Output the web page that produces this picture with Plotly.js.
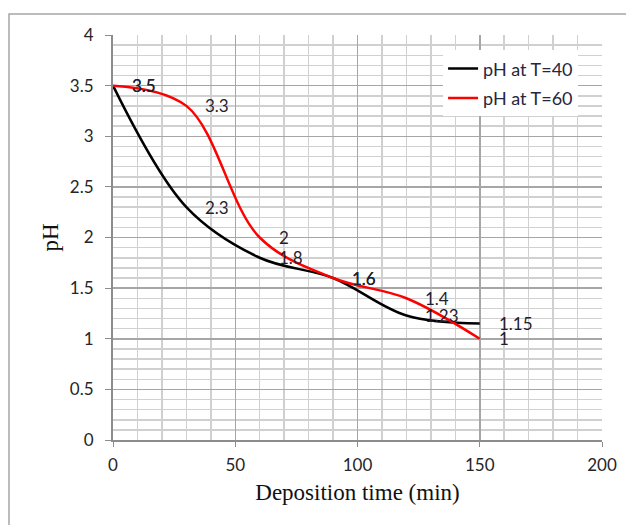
<!DOCTYPE html>
<html>
<head>
<meta charset="utf-8">
<script src="https://cdn.plot.ly/plotly-3.0.1.min.js"></script>
<style>
  html, body { margin: 0; padding: 0; background: #fff; }
  #chart { width: 626px; height: 525px; }
</style>
</head>
<body>
<div id="chart"></div>
<script>
// Deposition time (min) at which pH was measured
const times = [0, 30, 60, 90, 120, 150];
// pH readings for the two bath temperatures
const phT40 = [3.5, 2.3, 1.8, 1.6, 1.23, 1.15];
const phT60 = [3.5, 3.3, 2, 1.6, 1.4, 1];
const seriesNames = ['pH at T=40', 'pH at T=60'];
const seriesColors = ['#000000', '#ff0000'];

const tickFont = { family: 'Lato, "Liberation Sans", sans-serif', size: 17, color: '#262626' };
const labelFont = { family: 'Lato, "Liberation Sans", sans-serif', size: 17, color: '#1f1f2f' };

const traces = [phT40, phT60].map((vals, i) => ({
  x: times,
  y: vals,
  name: seriesNames[i],
  legendgroup: 'g' + i,
  mode: 'lines',
  line: { color: seriesColors[i], width: 2.5, shape: 'spline', smoothing: 1 },
  hoverinfo: 'x+y'
}));

// value labels placed just right of each measured point
const annotations = [];
[phT40, phT60].forEach(vals => {
  vals.forEach((v, j) => {
    annotations.push({
      x: times[j], y: v, xref: 'x', yref: 'y',
      text: String(v), showarrow: false,
      xanchor: 'left', yanchor: 'middle', xshift: 17,
      font: labelFont
    });
  });
});

const layout = {
  width: 626, height: 525,
  margin: { l: 113, r: 24, t: 35, b: 85 },
  paper_bgcolor: '#ffffff',
  plot_bgcolor: '#ffffff',
  showlegend: true,
  legend: {
    x: 0.675, y: 0.962, xanchor: 'left', yanchor: 'top',
    bgcolor: '#ffffff', borderwidth: 0,
    font: { family: 'Lato, "Liberation Sans", sans-serif', size: 18, color: '#262640' },
    traceorder: 'grouped', tracegroupgap: 3
  },
  xaxis: {
    range: [0, 200], dtick: 50, tick0: 0,
    showgrid: true, gridcolor: '#a6a6a6', gridwidth: 1.5,
    minor: { dtick: 10, showgrid: true, gridcolor: '#d0d0d0', gridwidth: 1.5 },
    showline: true, linecolor: '#8c8c8c', linewidth: 2,
    ticks: 'outside', ticklen: 5, tickcolor: '#8c8c8c', tickwidth: 1,
    ticklabelstandoff: 4,
    zeroline: false,
    tickfont: tickFont,
    title: { text: 'Deposition time (min)', standoff: 9,
             font: { family: '"Liberation Serif", "Times New Roman", serif', size: 23, color: '#111' } }
  },
  yaxis: {
    range: [0, 4], dtick: 0.5, tick0: 0,
    showgrid: true, gridcolor: '#a6a6a6', gridwidth: 1.5,
    minor: { dtick: 0.1, showgrid: true, gridcolor: '#d0d0d0', gridwidth: 1.5 },
    showline: true, linecolor: '#8c8c8c', linewidth: 2,
    ticks: 'outside', ticklen: 6, tickcolor: '#8c8c8c', tickwidth: 1,
    ticklabelstandoff: 8,
    zeroline: false,
    tickfont: tickFont,
    title: { text: 'pH', standoff: 5,
             font: { family: '"Liberation Serif", "Times New Roman", serif', size: 23, color: '#111' } }
  },
  annotations: annotations,
  shapes: [{
    type: 'rect', xref: 'paper', yref: 'paper',
    x0: -0.2127, x1: 1.2, y0: -0.4, y1: 1.0519,
    line: { color: '#a6a6a6', width: 1.5 }, fillcolor: 'rgba(0,0,0,0)', layer: 'below'
  }]
};

Plotly.newPlot('chart', traces, layout, { displayModeBar: false, staticPlot: true });
</script>
</body>
</html>
